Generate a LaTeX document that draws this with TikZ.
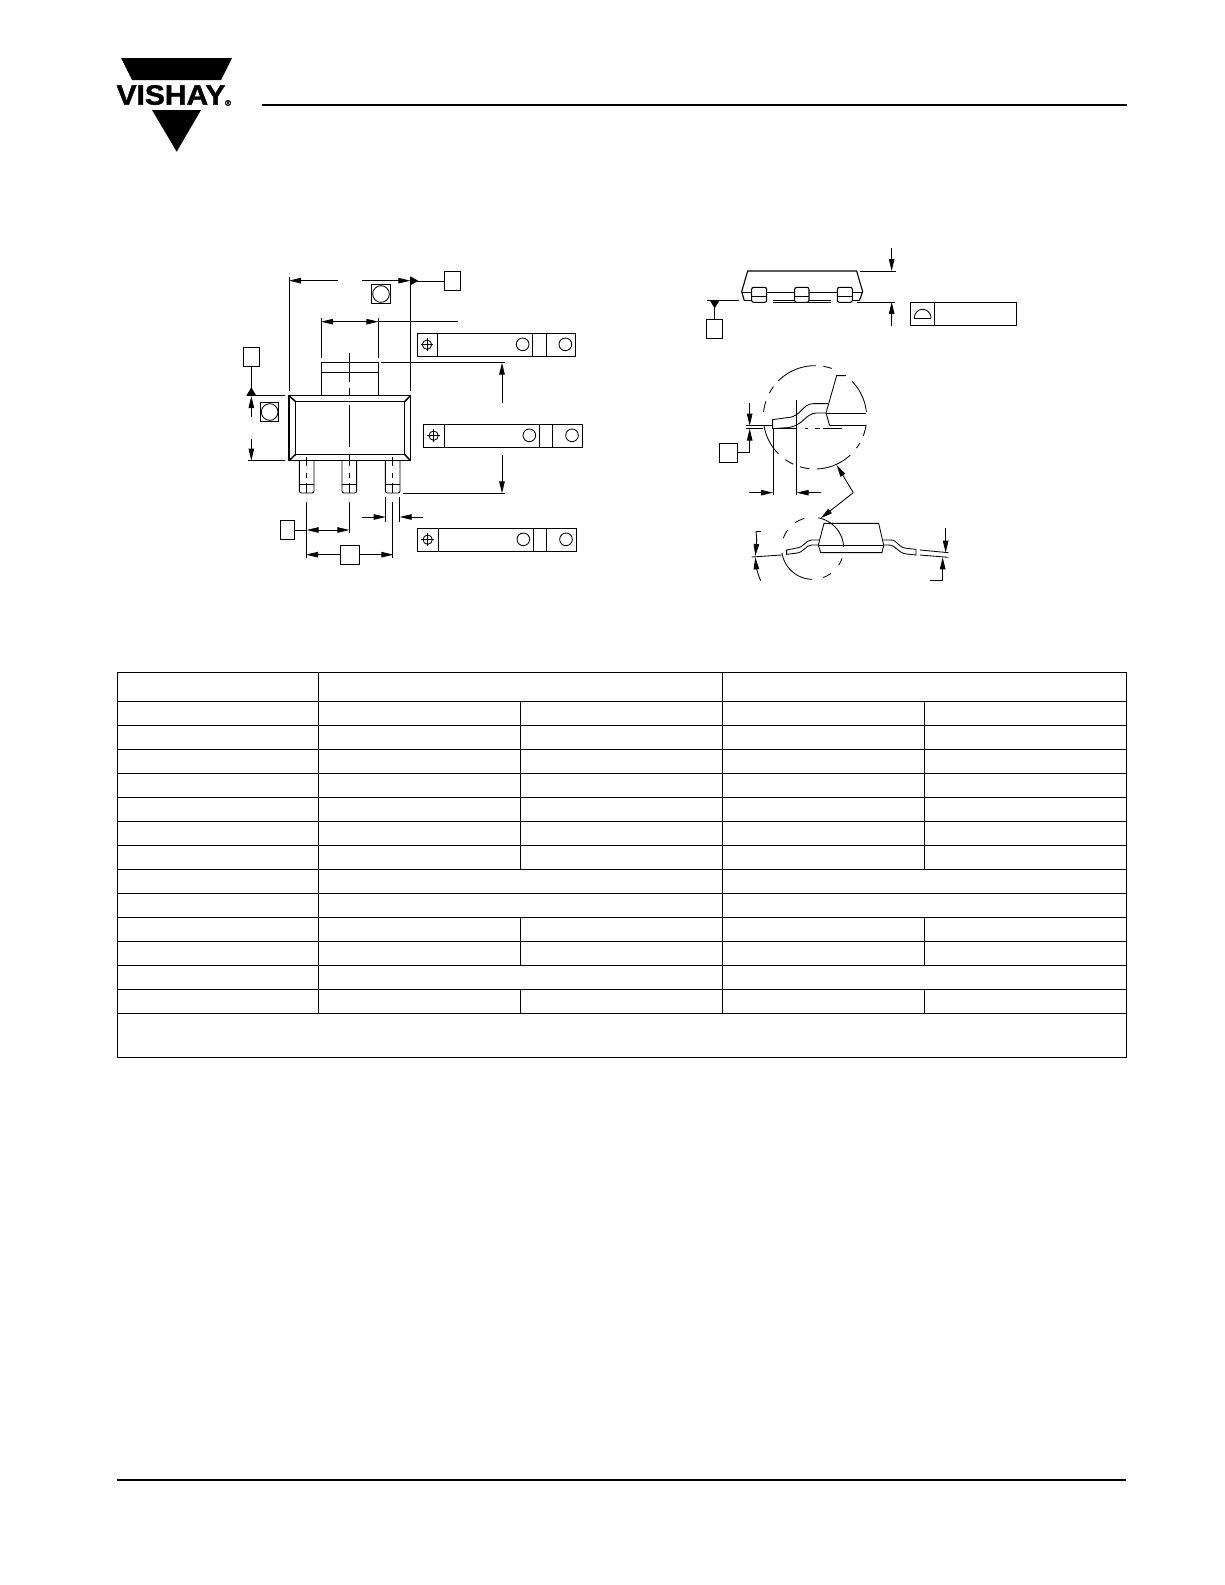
\documentclass[tikz,border=0pt]{standalone}
\usepackage{fontspec}
\newfontfamily\vfont[BoldFeatures={FakeBold=1.2}]{Liberation Sans}
\usetikzlibrary{arrows.meta}
\tikzset{
  ln/.style={line width=0.85pt,line join=miter},
  thk/.style={line width=1.1pt},
  tbl/.style={line width=1pt},
  dim/.style={ln,-{Triangle[length=12pt,width=5.5pt]}},
  dimb/.style={ln,{Triangle[length=12pt,width=5.5pt]}-{Triangle[length=12pt,width=5.5pt]}},
  datum/.style={draw,line width=0.85pt,inner sep=0pt,minimum width=#1,minimum height=19pt},
  datum/.default=16pt
}
\begin{document}
\begin{tikzpicture}[x=1pt,y=-1pt]
\useasboundingbox[fill=white] (0,0) rectangle (1225,1585);
% ---- header
\fill (121,58) -- (232,58) -- (221,80) -- (132,80) -- cycle;
\fill (152,110) -- (201,110) -- (176.7,151.7) -- cycle;
\node[inner sep=0pt,xscale=1.07] (logo) at (171,95) {\vfont\bfseries\fontsize{28}{28}\selectfont VISHAY};
\node[inner sep=0pt] (reg) at (228,103) {\vfont\bfseries\fontsize{8}{8}\selectfont ®};
\draw[line width=2pt] (262,104.5) -- (1127,104.5);
\draw[line width=1.5pt] (116.5,1480) -- (1126,1480);
% ---- table
\draw[tbl] (117.9,672.3) rectangle (1126.2,1057.3);
\foreach \y in {701.3,725.3,749.3,773.3,797.3,821.3,845.3,869.3,893.3,917.3,941.3,965.3,989.3,1013.3}
  \draw[tbl] (117.9,\y) -- (1126.2,\y);
\foreach \x in {318.4,722.3} \draw[line width=0.8pt] (\x,672.3) -- (\x,1013.3);
\foreach \x in {520.5,924.5} {
  \draw[tbl] (\x,701.3) -- (\x,869.3);
  \draw[tbl] (\x,917.3) -- (\x,965.3);
  \draw[tbl] (\x,989.3) -- (\x,1013.3);
}
% ---- left view (coordinates of a 3x crop)
\begin{scope}[shift={(220,250)},x=0.33333pt,y=-0.33333pt]
  % extension lines
  \draw[ln] (207,82) -- (207,423) (571,80) -- (571,423);
  \draw[dim] (353,92) -- (207,92);
  \draw[dim] (427,92) -- (571,92);
  \node[datum] (dB) at (697,93) {};
  \draw[ln] (dB.west) -- (590,93);
  \fill (571,79) -- (595,92.5) -- (571,106) -- cycle;
  \draw[ln,fill=white] (455,103) rectangle (511,161);
  \draw[ln] (483,132) circle (25);
  \draw[ln] (303,205) -- (303,325) (475,205) -- (475,325);
  \draw[dim] (400,215) -- (303,215);
  \draw[dim] (400,215) -- (475,215);
  \draw[ln] (475,215) -- (715,215);
  % tolerance frames
  \foreach \fx/\fy in {591/250,611/523,593/835} {
    \begin{scope}[shift={(\fx,\fy)}]
    \draw[line width=1pt] (0,0) rectangle (476,68);
    \draw[line width=1pt] (61,0) -- (61,68) (346,0) -- (346,68) (387,0) -- (387,68);
    \draw[ln] (30,34) circle (14);
    \draw[ln] (30,15) -- (30,53) (11,34) -- (49,34);
    \draw[ln] (317,33) circle (19) (445,33) circle (19);
    \end{scope}
  }
  % package
  \draw[thk] (304,437) -- (304,338) -- (475,338) -- (475,437);
  \draw[ln] (304,367) -- (475,367);
  \draw[ln] (484,338) -- (855,338) (549,730) -- (855,730);
  \draw[dim] (846,458) -- (846,338);
  \draw[dim] (846,615) -- (846,730);
  \draw[line width=1.5pt] (207,437) rectangle (571,632);
  \draw[line width=1.5pt] (227,455) rectangle (554,613);
  \draw[line width=1.5pt] (207,437) -- (227,455) (571,437) -- (554,455) (207,632) -- (227,613) (571,632) -- (554,613);
  % leads
  \foreach \c in {260,388,518} {
    \draw[ln,rounded corners=2pt] (\c-22,632) -- (\c-22,729) -- (\c+22,729) -- (\c+22,632);
    \draw[ln] (\c-22,703) -- (\c+22,703);
    \draw[ln] (\c,622) -- (\c,648) (\c,670) -- (\c,685) (\c,700) -- (\c,730);
  }
  % centre lines
  \draw[ln] (388,310) -- (388,395) (388,415) -- (388,437) (388,465) -- (388,590) (388,612) -- (388,625);
  \draw[ln] (388,757) -- (388,850);
  \draw[ln] (260,757) -- (260,925) (518,757) -- (518,925);
  \draw[ln] (497,742) -- (497,815) (539,742) -- (539,815);
  \draw[dim] (427,801) -- (497,801);
  \draw[dim] (610,801) -- (539,801);
  \node[datum=14pt] (dC) at (203,840) {};
  \draw[ln] (dC.east) -- (260,840);
  \draw[dimb] (260,840) -- (388,840);
  \node[datum=19pt] (dE) at (389.5,914) {};
  \draw[dim] (dE.west) -- (258,914);
  \draw[dim] (dE.east) -- (520,914);
  % left dimension
  \node[datum] (dA) at (94,321) {};
  \draw[ln] (dA.south) -- (94,437);
  \fill (94,412) -- (79,437) -- (109,437) -- cycle;
  \draw[ln] (80,436) -- (195,436) (84,632) -- (195,632);
  \draw[dim] (94,500) -- (94,438);
  \draw[dim] (94,567) -- (94,632);
  \draw[ln] (122,458) rectangle (176,514);
  \draw[ln] (149,486) circle (25);
\end{scope}
% ---- right views
\begin{scope}[shift={(680,230)},x=0.33333pt,y=-0.33333pt]
  \draw[thk] (193,212) -- (185,185) -- (203,123) -- (530,123) -- (548,185) -- (538,212);
  \draw[thk] (185,188) -- (548,188);
  \foreach \a/\b in {215/260,344/387,472/517} {
    \draw[thk,fill=white,rounded corners=2pt] (\a,172) rectangle (\b,217);
    \draw[ln] (\a,198) -- (\b,198);
  }
  \draw[ln] (193,212) -- (215,212) (517,212) -- (538,212);
  \draw[ln] (280,212) -- (345,212) (280,216) -- (452,216) (387,212) -- (452,212);
  \draw[ln] (80,212) -- (177,212);
  \fill (90,212) -- (118,212) -- (104,235) -- cycle;
  \node[datum] (dD) at (104,297) {};
  \draw[ln] (104,235) -- (dD.north);
  \draw[ln] (530,216) -- (645,216) (540,123) -- (647,123);
  \draw[dim] (635,55) -- (635,123);
  \draw[dim] (635,287) -- (635,216);
  \draw[line width=1pt] (690,217) rectangle (1008,285);
  \draw[line width=1pt] (763,217) -- (763,285);
  \draw[ln] (703,265) -- (753,265);
  \draw[ln] plot[domain=0:180,samples=25,smooth] ({728+25*cos(\x)},{265-27*sin(\x)});
  % detail circle
  \foreach \a/\b in {89/135,71/80.6,6/44,-21/-8.4,-36.6/-30,-88/-47,-107/-96,-125/-115,189/225,162/174,143.6/152}
    \draw[ln] plot[domain=\a:\b,samples=20,smooth] ({405+155*cos(\x)},{562-155*sin(\x)});
  % lead and body in detail
  \draw[ln] (498,437) -- (470,437) -- (438,549) -- (449,587);
  \draw[ln] (438,549) -- (558,549) (449,587) -- (558,587);
  \draw[ln] (444,521) -- (400,521) .. controls (365,521) and (365,562) .. (320,563) -- (278,569) -- (278,596) -- (320,593) .. controls (370,590) and (375,549) .. (410,549) -- (438,549);
  \draw[ln] (198,587) -- (275,587) (198,595) -- (250,595) (280,595) -- (350,595) (375,595) -- (385,595) (405,595) -- (420,595) (430,595) -- (485,595);
  \draw[dim] (209,518) -- (209,587);
  \node[datum=18.3pt] (dF) at (145.5,668) {};
  \draw[-{Triangle[length=12pt,width=5.5pt]},ln] (dF.east) -- (209,668) -- (209,596);
  \draw[ln] (279,597) -- (279,795) (350,510) -- (350,795);
  \draw[dim] (207,788) -- (279,788);
  \draw[dim] (422,788) -- (350,788);
  % leader
  \coordinate (lk) at (520,788);
  \draw[dim] (lk) -- (470,705);
  \draw[dim] (lk) -- (422,865);
  % lower view
  \draw[ln] (415,945) -- (432,880) -- (596,880) -- (611,945) -- (606,968) -- (422,968) -- cycle;
  \draw[ln] (415,945) -- (611,945);
  \draw[ln] (417,930) -- (395,930) .. controls (375,930) and (375,953) .. (345,955) -- (320,960) -- (320,973) -- (345,970) .. controls (375,968) and (375,945) .. (395,945) -- (415,945);
  \draw[ln] (610,930) -- (632,930) .. controls (655,930) and (650,952) .. (680,955) -- (708,958) -- (708,975) -- (680,972) .. controls (650,968) and (650,945) .. (625,945) -- (611,945);
  \foreach \a/\b in {105.6/124,144/161,189/269,-70/-54,-33/-18.6,3/79.6}
    \draw[ln] plot[domain=\a:\b,samples=20,smooth] ({398+93*cos(\x)},{955-93*sin(\x)});
  % angle
  \draw[ln] (305,975) -- (215,981);
  \draw[ln] (242,905) -- (228,905);
  \draw[dim] (228,905) .. controls (232,930) and (228,955) .. (226,978);
  \draw[dim] (242,1052) .. controls (232,1030) and (228,1005) .. (226,982);
  % thickness
  \draw[ln] (720,960) -- (805,968) (720,975) -- (805,982);
  \draw[dim] (797,895) -- (797,968);
  \draw[dim] (788,1052) -- (788,982);
  \draw[ln] (750,1052) -- (788,1052);
\end{scope}
\end{tikzpicture}
\end{document}
